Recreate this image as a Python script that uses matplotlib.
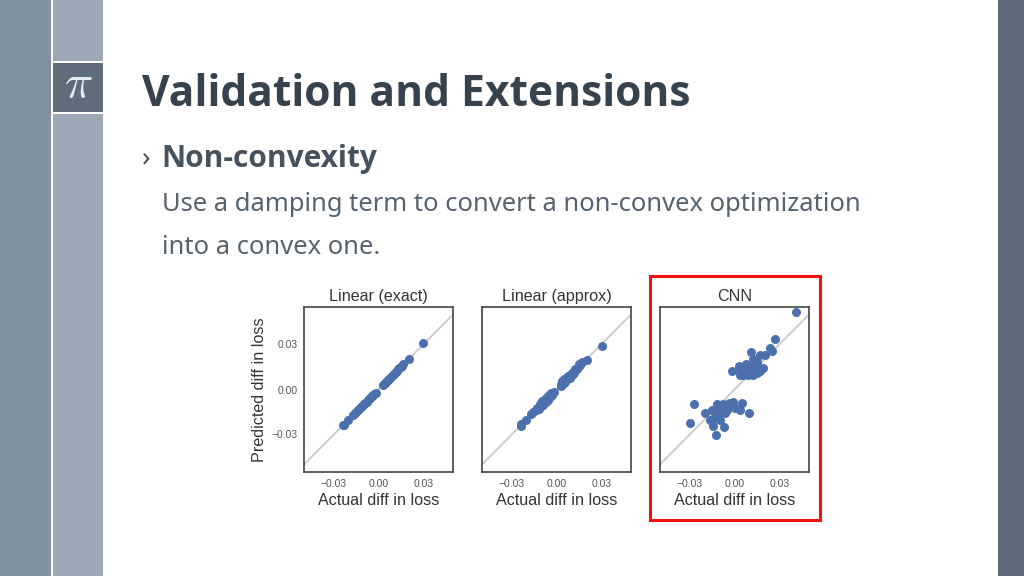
import matplotlib
matplotlib.use("Agg")
import matplotlib.pyplot as plt
from matplotlib.patches import Rectangle

W, H = 1024, 576
panel_titles = ["Linear (exact)", "Linear (approx)", "CNN"]
tick_vals = [-0.03, 0.0, 0.03]
tick_labels = ["\u22120.03", "0.00", "0.03"]

exact_x = [0.0302, 0.0204, 0.0165, 0.0155, 0.0148, 0.014, 0.0132, 0.0125, 0.0118, 0.011, 0.0102, 0.0095, 0.0088, 0.008, 0.0072, 0.0065, 0.0058, 0.005, 0.0042, 0.0035, 0.003,
           -0.002, -0.0028, -0.0035, -0.0042, -0.005, -0.0058, -0.0065, -0.0072, -0.008, -0.0088, -0.0095, -0.0102, -0.011, -0.012, -0.013, -0.014, -0.015, -0.016, -0.017, -0.0208, -0.0237, -0.0232]
exact_y = [0.0307, 0.0201, 0.0168, 0.0158, 0.0149, 0.0141, 0.0134, 0.0124, 0.0119, 0.0109, 0.0103, 0.0094, 0.0089, 0.0079, 0.0073, 0.0064, 0.0059, 0.0049, 0.0043, 0.0034, 0.0031,
           -0.0021, -0.0027, -0.0036, -0.0041, -0.0052, -0.0057, -0.0066, -0.0071, -0.0081, -0.0087, -0.0096, -0.0101, -0.0111, -0.0119, -0.0131, -0.0139, -0.0151, -0.0159, -0.0171, -0.0201, -0.0237, -0.0235]

approx_x = [0.0304, 0.0204, 0.0168, 0.016, 0.015, 0.0142, 0.0135, 0.0125, 0.0118, 0.011, 0.0102, 0.0095, 0.0088, 0.008, 0.0072, 0.0065, 0.0058, 0.005, 0.0042, 0.0035, 0.003, 0.0028,
            -0.002, -0.0028, -0.0035, -0.0042, -0.005, -0.0058, -0.0065, -0.0072, -0.008, -0.0088, -0.0095, -0.0102, -0.011, -0.012, -0.013, -0.014, -0.0155, -0.017, -0.0206, -0.0237, -0.0235]
approx_y = [0.0293, 0.0199, 0.0182, 0.0165, 0.0168, 0.0148, 0.0138, 0.0135, 0.0112, 0.0118, 0.0098, 0.0105, 0.008, 0.009, 0.0068, 0.0078, 0.005, 0.0068, 0.0035, 0.0055, 0.0022, 0.0038,
            -0.0018, -0.0035, -0.0025, -0.0052, -0.0036, -0.0068, -0.0052, -0.0085, -0.0062, -0.0102, -0.0075, -0.0108, -0.0095, -0.0128, -0.0122, -0.0138, -0.0148, -0.0165, -0.0206, -0.0244, -0.0232]

cnn_x = [0.041, 0.027, 0.0235, 0.025, 0.0113, 0.017, 0.0203, 0.0127, 0.015, -0.002, 0.0028, 0.0028, 0.008, 0.0116, 0.0194, 0.017, 0.0138, 0.0037, 0.006, 0.0093, 0.0127, 0.015, 0.0048, 0.008, 0.0116, 0.007, 0.0104, 0.0172,
         -0.027, -0.03, -0.02, -0.0122, -0.007, -0.0145, -0.0098, -0.0165, 0.0098, 0.0053, 0.0037, -0.0008, -0.012, -0.0075, -0.004, -0.0154, -0.0125, -0.0086, -0.0048, 0.0003, -0.003, -0.0098, -0.0138, -0.0109, -0.0064]
cnn_y = [0.0515, 0.034, 0.028, 0.026, 0.025, 0.023, 0.023, 0.0206, 0.0184, 0.0123, 0.016, 0.0134, 0.0168, 0.0157, 0.0146, 0.0123, 0.0134, 0.010, 0.0094, 0.0094, 0.010, 0.0107, 0.0123, 0.0123, 0.0123, 0.0146, 0.0139, 0.0134,
         -0.0098, -0.0226, -0.0159, -0.03, -0.0253, -0.024, -0.0206, -0.0201, -0.0154, -0.0092, -0.0134, -0.0085, -0.0098, -0.0094, -0.009, -0.0139, -0.0156, -0.0145, -0.0134, -0.0123, -0.0112, -0.0116, -0.019, -0.0179, -0.0156]

series = [(exact_x, exact_y), (approx_x, approx_y), (cnn_x, cnn_y)]

plt.rcParams["mathtext.fontset"] = "cm"
fig = plt.figure(figsize=(W / 100, H / 100), dpi=100, facecolor="white")


def band(x0, y0, x1, y1, color, ec="none", lw=0, z=0):
    fig.add_artist(Rectangle((x0 / W, 1 - y1 / H), (x1 - x0) / W, (y1 - y0) / H,
                             transform=fig.transFigure, facecolor=color,
                             edgecolor=ec, linewidth=lw, zorder=z))


def px_text(x, y, s, **kw):
    fig.text(x / W, 1 - y / H, s, **kw)


band(0, 0, 51, 576, "#7f92a2")
band(53, 0, 103, 576, "#9ba9b7")
band(998, 0, 1024, 576, "#5d6b78")
band(53, 62, 103, 112, "#5f6c7a")
band(53, 61, 103, 62.5, "white")
band(53, 112, 103, 113.5, "white")
px_text(78, 86, r"$\pi$", color="#e8edf0", fontsize=34, ha="center", va="center")

bold = "Open Sans"
slide = "Noto Sans"
px_text(142, 94.5, "Validation and Extensions", color="#36434e", fontsize=30.65,
        fontweight="bold", family=bold, ha="left", va="center")
px_text(142, 160, "\u203a", color="#46535e", fontsize=20, family=slide, ha="left", va="center")
px_text(161.5, 158.5, "Non-convexity", color="#46535e", fontsize=21.5, fontweight="bold",
        family=bold, ha="left", va="center")
px_text(162, 204, "Use a damping term to convert a non-convex optimization", color="#56636e",
        fontsize=18.4, family=slide, ha="left", va="center")
px_text(162, 247.5, "into a convex one.", color="#56636e", fontsize=18.4, family=slide,
        ha="left", va="center")

lefts = [304, 482, 660]
for i, (left, title, (xs, ys)) in enumerate(zip(lefts, panel_titles, series)):
    ax = fig.add_axes([left / W, 1 - 472 / H, 149 / W, 165 / H], facecolor="white")
    ax.set_xlim(-0.05, 0.05)
    ax.set_ylim(-0.055, 0.055)
    ax.plot([-0.05, 0.05], [-0.05, 0.05], color="#cccccc", lw=1.4, zorder=1)
    ax.scatter(xs, ys, s=42, color="#4c6fae", linewidths=0, zorder=2, clip_on=False)
    for sp in ax.spines.values():
        sp.set_color("#444444")
        sp.set_linewidth(1.2)
    ax.set_xticks(tick_vals, tick_labels, fontfamily="Liberation Sans", fontsize=7.5, color="#555555")
    ax.tick_params(axis="x", length=0, pad=5)
    ax.tick_params(axis="y", length=0, pad=4.5)
    if i == 0:
        ax.set_yticks(tick_vals, tick_labels, fontfamily="Liberation Sans", fontsize=7.5, color="#555555")
        ax.set_ylabel("Predicted diff in loss", fontfamily="Liberation Sans", fontsize=11.6,
                      color="#333333", labelpad=3)
    else:
        ax.set_yticks([])
    ax.set_xlabel("Actual diff in loss", fontfamily="Liberation Sans", fontsize=11.6,
                  color="#333333", labelpad=3)
    ax.set_title(title, fontfamily="Liberation Sans", fontsize=11.6, color="#333333", pad=4)

band(650, 276, 819.5, 520, "none", ec="#ee1111", lw=2.2, z=5)

fig.savefig("out.png", dpi=100, facecolor="white")
